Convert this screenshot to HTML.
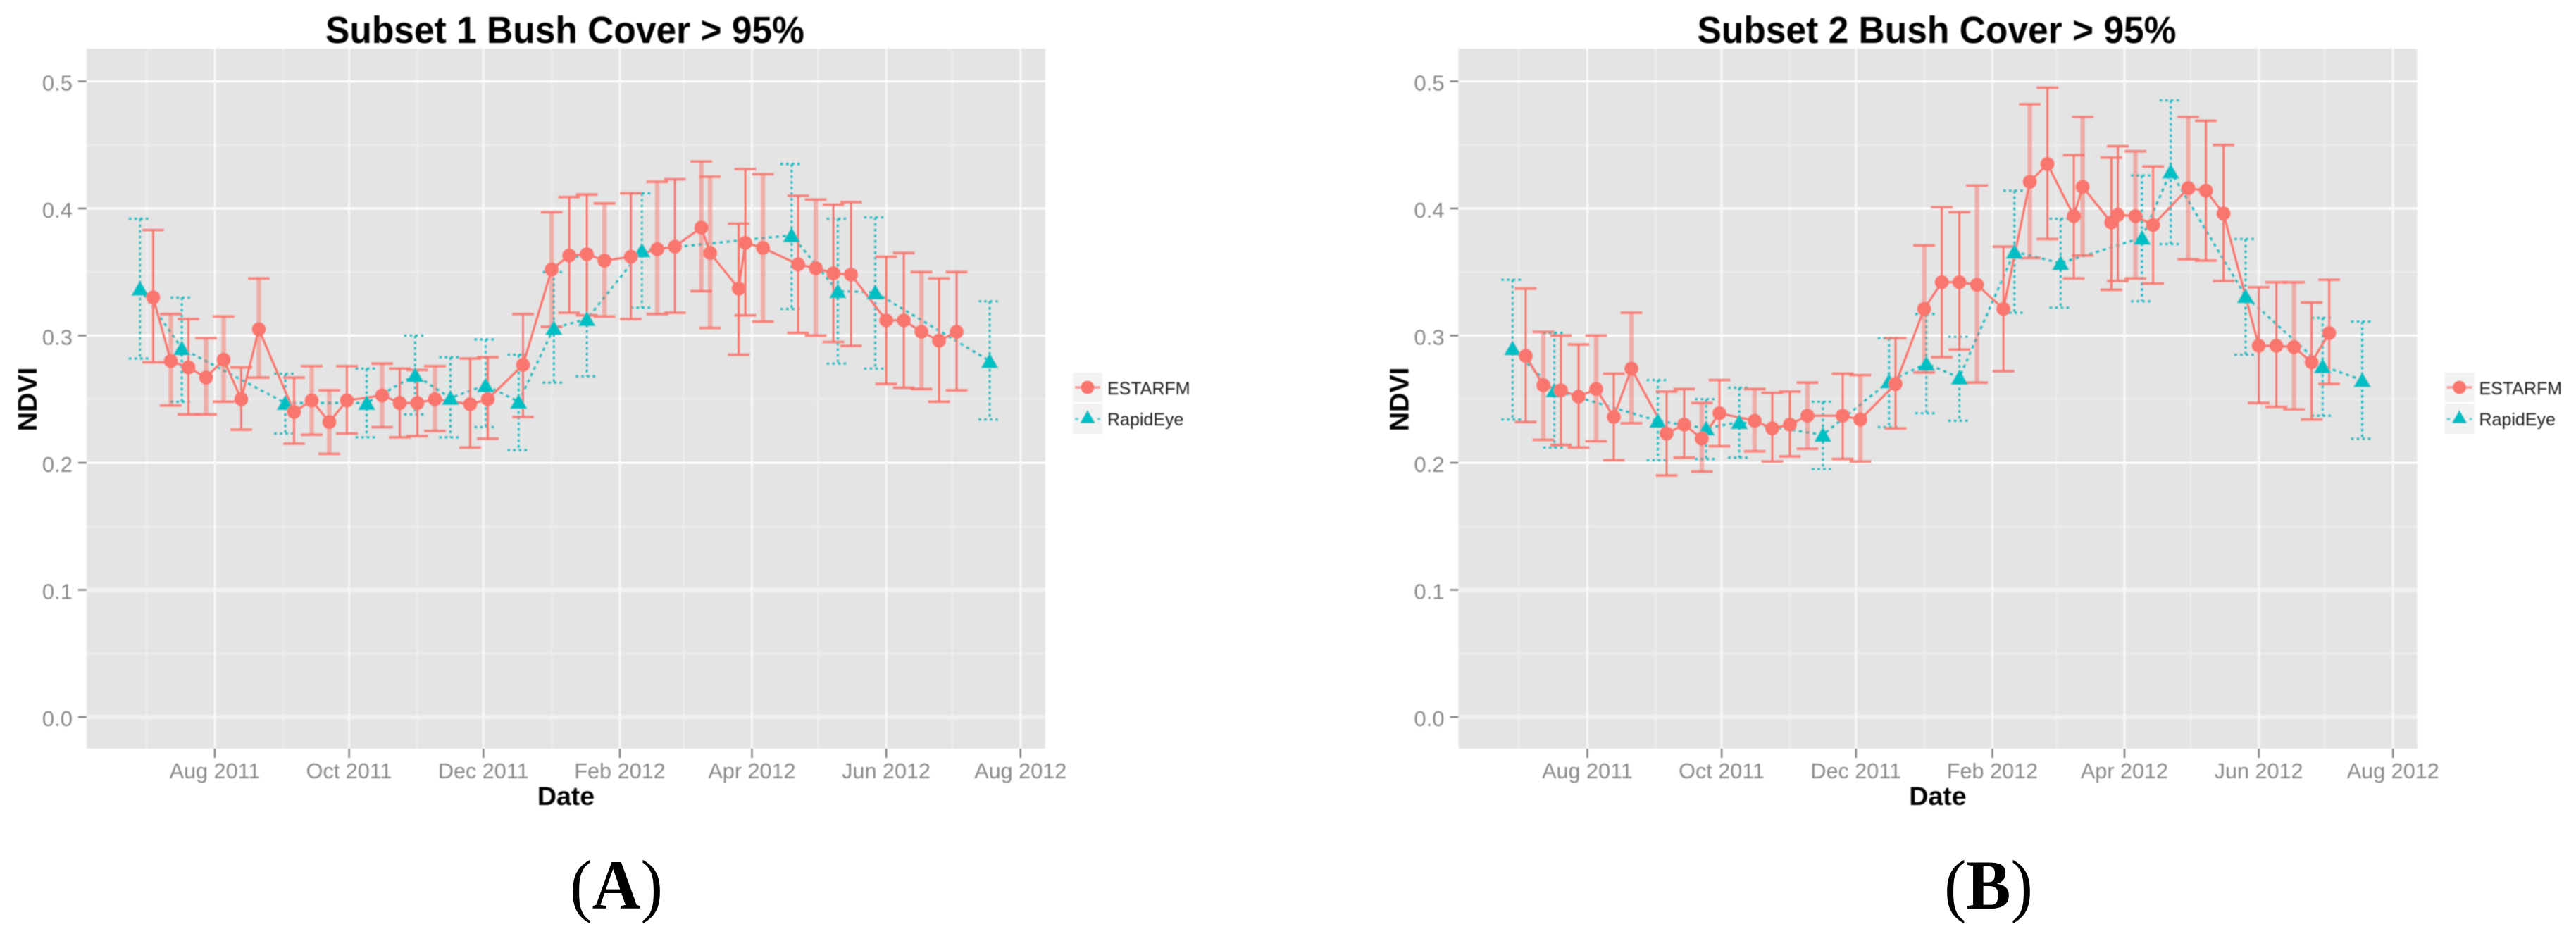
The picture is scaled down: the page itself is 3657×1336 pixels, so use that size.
<!DOCTYPE html>
<html lang="en">
<head>
<meta charset="utf-8">
<title>Subset 1 and Subset 2 NDVI comparison</title>
<style>
html,body{margin:0;padding:0;background:#fff;}
svg{display:block;}
text{font-family:"Liberation Sans",sans-serif;}
.cap{font-family:"Liberation Serif",serif;font-weight:normal;font-size:100px;fill:#000;}
.cap tspan{font-family:"Liberation Serif",serif;font-weight:bold;}
</style>
</head>
<body>
<svg id="figure" xmlns="http://www.w3.org/2000/svg" width="3657" height="1336" viewBox="0 0 3657 1336">
  <defs>
    <filter id="soft" filterUnits="userSpaceOnUse" x="0" y="0" width="3657" height="1336">
      <feGaussianBlur stdDeviation="0.8"/>
    </filter>
  </defs>
  <rect x="0" y="0" width="3657" height="1336" fill="#ffffff"/>
  <g id="plots" filter="url(#soft)"></g>
  <text class="cap" x="875" y="1290" text-anchor="middle" textLength="132" lengthAdjust="spacingAndGlyphs">(<tspan>A</tspan>)</text>
  <text class="cap" x="2823" y="1290" text-anchor="middle" textLength="126" lengthAdjust="spacingAndGlyphs">(<tspan>B</tspan>)</text>
</svg>
<script>
// Axis data (x values are days since 1 Aug 2011)
const xTickDays = [0, 61, 122, 184, 244, 305, 366];
const xTickLabels = ['Aug 2011', 'Oct 2011', 'Dec 2011', 'Feb 2012', 'Apr 2012', 'Jun 2012', 'Aug 2012'];
const xMinorDays = [-31, 31, 92, 153, 213, 274, 335];
const yTickValues = [0.0, 0.1, 0.2, 0.3, 0.4, 0.5];
const yTickLabels = ['0.0', '0.1', '0.2', '0.3', '0.4', '0.5'];
const yMinorValues = [0.05, 0.15, 0.25, 0.35, 0.45];
const seriesNames = ['ESTARFM', 'RapidEye'];

// Subset 1
const estarfmDays1 = [-28,-20,-12,-4,4,12,20,36,44,52,60,76,84,92,100,116,124,140,153,161,169,177,189,201,209,221,225,238,241,249,265,273,281,289,305,313,321,329,337];
const estarfmMean1 = [.330,.280,.275,.267,.281,.250,.305,.240,.249,.232,.249,.253,.247,.247,.250,.246,.250,.277,.352,.363,.364,.359,.362,.368,.370,.385,.365,.337,.373,.369,.356,.353,.349,.348,.312,.312,.303,.296,.303];
const estarfmUpper1 = [.383,.317,.313,.298,.315,.275,.345,.267,.276,.257,.276,.278,.274,.273,.276,.282,.283,.317,.397,.409,.411,.404,.412,.421,.423,.437,.425,.388,.431,.427,.410,.407,.403,.405,.362,.365,.350,.345,.350];
const estarfmLower1 = [.279,.245,.238,.238,.248,.226,.267,.215,.222,.207,.223,.228,.220,.221,.225,.212,.219,.236,.307,.318,.316,.315,.313,.317,.318,.335,.306,.285,.316,.311,.302,.300,.295,.292,.262,.259,.258,.248,.257];
const rapidDays1 = [-34,-15,32,69,91,107,123,138,154,169,194,262,283,300,352];
const rapidMean1 = [.337,.290,.247,.247,.269,.251,.261,.248,.306,.313,.367,.379,.335,.334,.280];
const rapidUpper1 = [.392,.330,.270,.274,.300,.283,.297,.285,.350,.362,.412,.435,.392,.393,.327];
const rapidLower1 = [.282,.248,.223,.220,.238,.220,.228,.210,.263,.268,.322,.321,.278,.274,.234];

// Subset 2
const estarfmDays2 = [-28,-20,-12,-4,4,12,20,36,44,52,60,76,84,92,100,116,124,140,153,161,169,177,189,201,209,221,225,238,241,249,257,273,281,289,305,313,321,329,337];
const estarfmMean2 = [.284,.261,.257,.252,.258,.236,.274,.223,.230,.219,.239,.233,.227,.230,.237,.237,.234,.262,.321,.342,.342,.340,.321,.421,.435,.394,.417,.389,.395,.394,.387,.416,.414,.396,.292,.292,.291,.279,.302];
const estarfmUpper2 = [.337,.303,.300,.293,.300,.270,.318,.256,.258,.247,.265,.258,.255,.256,.263,.270,.269,.298,.371,.401,.397,.418,.370,.482,.495,.442,.472,.440,.449,.445,.433,.472,.469,.450,.338,.342,.342,.326,.344];
const estarfmLower2 = [.232,.218,.214,.212,.217,.202,.231,.190,.204,.193,.213,.209,.201,.205,.211,.203,.201,.227,.271,.283,.289,.263,.272,.361,.376,.345,.363,.336,.343,.345,.341,.360,.359,.343,.247,.244,.242,.234,.262];
const rapidDays2 = [-34,-15,32,54,69,107,137,154,169,194,215,252,265,299,334,352];
const rapidMean2 = [.290,.257,.233,.227,.232,.222,.264,.278,.267,.366,.357,.377,.429,.331,.276,.265];
const rapidUpper2 = [.344,.302,.265,.250,.259,.248,.298,.317,.299,.414,.392,.426,.485,.376,.314,.311];
const rapidLower2 = [.234,.212,.202,.203,.204,.195,.228,.239,.233,.318,.322,.327,.372,.285,.237,.219];

// Rendering appearance only: which error bars look soft and wide after resampling
const softBars1 = [2,4,5,7,9,10,12,15,19,22,24,26,27,30,32,37];
const softBars2 = [2,5,7,10,12,15,17,19,22,24,27,30,32,37];

const SVGNS = 'http://www.w3.org/2000/svg';
const RED = '#F8766D';
const TEAL = '#00BFC4';
const plots = document.getElementById('plots');

function add(parent, tag, attrs, text) {
  const node = document.createElementNS(SVGNS, tag);
  for (const k in attrs) node.setAttribute(k, attrs[k]);
  if (text !== undefined) node.textContent = text;
  parent.appendChild(node);
  return node;
}

function drawPanel(cfg) {
  const dx = cfg.dx;
  const panelLeft = 123 + dx, panelRight = 1484 + dx, panelTop = 69, panelBottom = 1063;
  const xAxis = d => 305 + dx + cfg.xNudge + d * 3.125;
  const yAxis = v => 1018 - v * 1805;

  const g = add(plots, 'g', {});
  
  

  const title = add(g, 'text', {x: 802 + dx, y: 61, 'text-anchor': 'middle', 'font-size': 54, 'font-weight': 'bold', fill: '#000', textLength: 680, lengthAdjust: 'spacingAndGlyphs'}, cfg.title);
  
  

  const bg = add(g, 'rect', {x: panelLeft, y: panelTop, width: panelRight - panelLeft, height: panelBottom - panelTop, fill: '#e4e4e4'});
  
  

  yMinorValues.forEach(v => {
    const el = add(g, 'line', {x1: panelLeft, x2: panelRight, y1: yAxis(v), y2: yAxis(v), stroke: '#ebebeb', 'stroke-width': 3});
    
    
  });
  xMinorDays.forEach(d => {
    const el = add(g, 'line', {x1: xAxis(d), x2: xAxis(d), y1: panelTop, y2: panelBottom, stroke: '#ebebeb', 'stroke-width': 3});
    
    
  });
  yTickValues.forEach((v, i) => {
    const low = v < 0.15;
    const grid = add(g, 'line', {x1: panelLeft, x2: panelRight, y1: yAxis(v), y2: yAxis(v), stroke: low ? '#f1f1f1' : '#ffffff', 'stroke-width': low ? 5.5 : 3});
    
    
    const tick = add(g, 'line', {x1: panelLeft - 12, x2: panelLeft, y1: yAxis(v), y2: yAxis(v), stroke: '#7f7f7f', 'stroke-width': 2.5});
    
    
    const label = add(g, 'text', {x: panelLeft - 20, y: yAxis(v) + 13, 'text-anchor': 'end', 'font-size': 31, fill: '#888888'}, yTickLabels[i]);
    
    
  });
  xTickDays.forEach((d, i) => {
    const grid = add(g, 'line', {x1: xAxis(d), x2: xAxis(d), y1: panelTop, y2: panelBottom, stroke: '#f8f8f8', 'stroke-width': 3});
    
    
    const tick = add(g, 'line', {x1: xAxis(d), x2: xAxis(d), y1: panelBottom, y2: panelBottom + 13, stroke: '#7f7f7f', 'stroke-width': 2.5});
    
    
    const label = add(g, 'text', {x: xAxis(d), y: 1105, 'text-anchor': 'middle', 'font-size': 30.6, fill: '#888888'}, xTickLabels[i]);
    
    
  });

  const xTitle = add(g, 'text', {x: 803.5 + dx, y: 1143, 'text-anchor': 'middle', 'font-size': 37.5, 'font-weight': 'bold', fill: '#000'}, 'Date');
  
  
  const yTitle = add(g, 'text', {transform: 'translate(' + (52 + dx) + ',567) rotate(-90)', 'text-anchor': 'middle', 'font-size': 38, 'font-weight': 'bold', fill: '#000'}, 'NDVI');
  
  

  // RapidEye connecting line
  const rapidLine = add(g, 'polyline', {points: cfg.rapidDays.map((d, i) => xAxis(d) + ',' + yAxis(cfg.rapidMean[i])).join(' '), fill: 'none', stroke: TEAL, 'stroke-width': 3.5, 'stroke-dasharray': '5 5'});
  
  

  // RapidEye error bars
  cfg.rapidDays.forEach((d, i) => {
    const x = xAxis(d), hi = yAxis(cfg.rapidUpper[i]), lo = yAxis(cfg.rapidLower[i]);
    const bar = add(g, 'path', {d: 'M' + x + ' ' + hi + 'V' + lo + 'M' + (x - 16) + ' ' + hi + 'H' + (x + 16) + 'M' + (x - 16) + ' ' + lo + 'H' + (x + 16), fill: 'none', stroke: TEAL, 'stroke-width': 3.5, 'stroke-dasharray': '4 4'});
    
    
  });

  // ESTARFM connecting line
  const estarfmLine = add(g, 'polyline', {points: cfg.estarfmDays.map((d, i) => xAxis(d) + ',' + yAxis(cfg.estarfmMean[i])).join(' '), fill: 'none', stroke: RED, 'stroke-width': 3.4});
  
  

  // ESTARFM error bars
  cfg.estarfmDays.forEach((d, i) => {
    const x = xAxis(d), hi = yAxis(cfg.estarfmUpper[i]), lo = yAxis(cfg.estarfmLower[i]);
    const soft = cfg.softBars.indexOf(i + 1) >= 0;
    const stem = add(g, 'line', {x1: x, x2: x, y1: hi, y2: lo, stroke: RED, 'stroke-width': soft ? 6.5 : 3.2, opacity: soft ? 0.5 : 1});
    
    
    const caps = add(g, 'path', {d: 'M' + (x - 15.5) + ' ' + hi + 'H' + (x + 15.5) + 'M' + (x - 15.5) + ' ' + lo + 'H' + (x + 15.5), fill: 'none', stroke: RED, 'stroke-width': 4, opacity: 0.85});
    
    
  });

  // RapidEye markers
  cfg.rapidDays.forEach((d, i) => {
    const x = xAxis(d), y = yAxis(cfg.rapidMean[i]);
    const tri = add(g, 'polygon', {points: (x - 12.5) + ',' + (y + 10) + ' ' + (x + 12.5) + ',' + (y + 10) + ' ' + x + ',' + (y - 11.5), fill: TEAL});
    
    
  });
  // ESTARFM markers
  cfg.estarfmDays.forEach((d, i) => {
    const dot = add(g, 'circle', {cx: xAxis(d), cy: yAxis(cfg.estarfmMean[i]), r: 10, fill: RED});
    
    
  });

  // Legend
  const lx = 1523 + dx;
  const key1 = add(g, 'rect', {x: lx, y: 529, width: 42, height: 42, fill: '#f2f2f2'});
  
  
  const key2 = add(g, 'rect', {x: lx, y: 573, width: 42, height: 43, fill: '#f2f2f2'});
  
  
  const keyLine1 = add(g, 'line', {x1: lx + 3, x2: lx + 39, y1: 550, y2: 550, stroke: RED, 'stroke-width': 3.5, opacity: 0.7});
  
  
  const keyDot = add(g, 'circle', {cx: lx + 21, cy: 550, r: 9.5, fill: RED});
  
  
  const keyLine2 = add(g, 'line', {x1: lx + 3, x2: lx + 39, y1: 595, y2: 595, stroke: TEAL, 'stroke-width': 3.5, 'stroke-dasharray': '5 27', opacity: 0.6});
  
  
  const keyTri = add(g, 'polygon', {points: (lx + 10) + ',601 ' + (lx + 32) + ',601 ' + (lx + 21) + ',582', fill: TEAL});
  
  
  const legendLabel1 = add(g, 'text', {x: lx + 49, y: 560, 'font-size': 25, fill: '#1a1a1a'}, seriesNames[0]);
  
  
  const legendLabel2 = add(g, 'text', {x: lx + 49, y: 604, 'font-size': 25, fill: '#1a1a1a'}, seriesNames[1]);
  
  
}

drawPanel({
  name: 'subset-1-chart', title: 'Subset 1 Bush Cover > 95%', dx: 0, xNudge: 0,
  estarfmDays: estarfmDays1, estarfmMean: estarfmMean1, estarfmUpper: estarfmUpper1, estarfmLower: estarfmLower1,
  rapidDays: rapidDays1, rapidMean: rapidMean1, rapidUpper: rapidUpper1, rapidLower: rapidLower1,
  softBars: softBars1
});
drawPanel({
  name: 'subset-2-chart', title: 'Subset 2 Bush Cover > 95%', dx: 1947.5, xNudge: 1,
  estarfmDays: estarfmDays2, estarfmMean: estarfmMean2, estarfmUpper: estarfmUpper2, estarfmLower: estarfmLower2,
  rapidDays: rapidDays2, rapidMean: rapidMean2, rapidUpper: rapidUpper2, rapidLower: rapidLower2,
  softBars: softBars2
});
</script>
</body>
</html>
